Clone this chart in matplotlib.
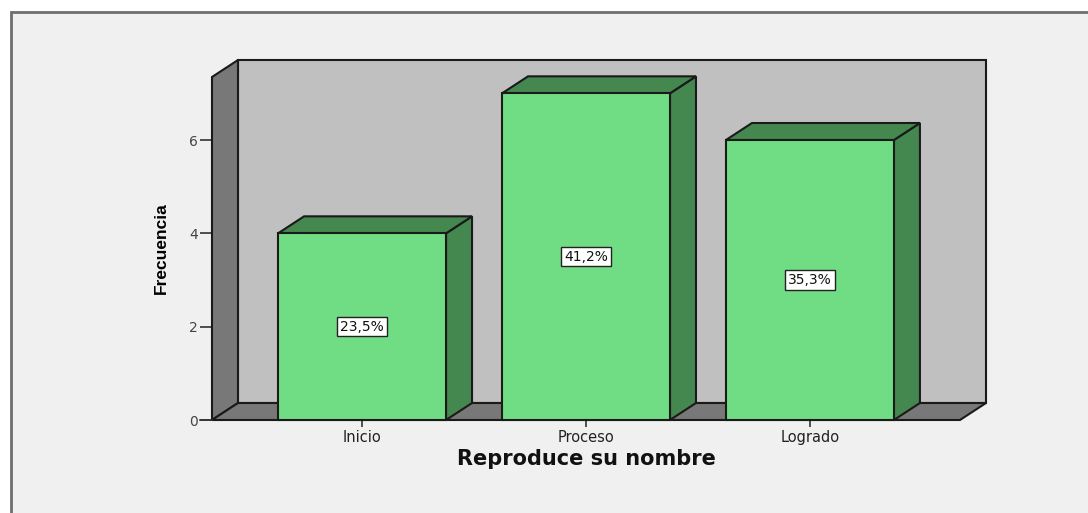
import matplotlib.pyplot as plt
from matplotlib.patches import Polygon, Rectangle
import numpy as np

# -----------------------------
# Data
# -----------------------------
categories = ["Inicio", "Proceso", "Logrado"]
counts = [4, 7, 6]
percent_labels = ["23,5%", "41,2%", "35,3%"]
y_ticks = [0, 2, 4, 6]

# -----------------------------
# Styling
# -----------------------------
W, H = 1088, 513
face_col = "#70dc84"
side_col = "#44874f"
back_col = "#c0c0c0"
wall_col = "#787878"
edge_col = "#1a1a1a"

x = np.arange(len(categories))
bar_w = 0.75
xmin, xmax = -0.67, 2.67
ymax = 7.35
dx = 26 / 224.0   # depth offset in category units
dy = 17 / 46.67   # depth offset in frequency units

fig = plt.figure(figsize=(W / 100, H / 100), dpi=100, facecolor="white")

# outer frame of the SPSS output
frame = Rectangle((11 / W, -0.1), 1.2, 1.1 - 12 / H, transform=fig.transFigure,
                  facecolor="#f0f0f0", edgecolor="#6e6e6e", lw=2, zorder=-5)
fig.patches.append(frame)

ax = fig.add_axes([212 / W, (H - 420) / H, 748 / W, 343 / H])
ax.set_xlim(xmin, xmax)
ax.set_ylim(0, ymax)
ax.patch.set_visible(False)
for s in ax.spines.values():
    s.set_visible(False)

# -----------------------------
# 3D walls
# -----------------------------
back = Polygon([(xmin + dx, dy), (xmax + dx, dy), (xmax + dx, ymax + dy), (xmin + dx, ymax + dy)],
               closed=True, facecolor=back_col, edgecolor=edge_col, lw=1.5, clip_on=False, zorder=1)
left = Polygon([(xmin, 0), (xmin + dx, dy), (xmin + dx, ymax + dy), (xmin, ymax)],
               closed=True, facecolor=wall_col, edgecolor=edge_col, lw=1.5, clip_on=False, zorder=2)
floor = Polygon([(xmin, 0), (xmax, 0), (xmax + dx, dy), (xmin + dx, dy)],
                closed=True, facecolor=wall_col, edgecolor=edge_col, lw=1.5, clip_on=False, zorder=2)
for p in (back, left, floor):
    ax.add_patch(p)

# -----------------------------
# 3D bars
# -----------------------------
for xi, v, lab in zip(x, counts, percent_labels):
    x0, x1 = xi - bar_w / 2, xi + bar_w / 2
    side = Polygon([(x1, 0), (x1 + dx, dy), (x1 + dx, v + dy), (x1, v)],
                   closed=True, facecolor=side_col, edgecolor=edge_col, lw=1.5, clip_on=False, zorder=3)
    top = Polygon([(x0, v), (x1, v), (x1 + dx, v + dy), (x0 + dx, v + dy)],
                  closed=True, facecolor=side_col, edgecolor=edge_col, lw=1.5, clip_on=False, zorder=3)
    front = Rectangle((x0, 0), bar_w, v, facecolor=face_col, edgecolor=edge_col,
                      lw=1.5, clip_on=False, zorder=4)
    ax.add_patch(side)
    ax.add_patch(top)
    ax.add_patch(front)
    ax.text(xi, v / 2, lab, ha="center", va="center", fontsize=10,
            family="DejaVu Sans", color="#111111", zorder=6,
            bbox=dict(boxstyle="square,pad=0.2", facecolor="white", edgecolor="#222222", lw=1))

# -----------------------------
# Axes & labels
# -----------------------------
ax.set_yticks(y_ticks)
ax.set_yticklabels([str(t) for t in y_ticks], family="DejaVu Sans", fontsize=10, color="#444444")
ax.set_xticks(x)
ax.set_xticklabels(categories, family="DejaVu Sans", fontsize=10.5, color="#222222")
ax.tick_params(axis="y", length=9, width=1.2, color="#333333", pad=1)
ax.tick_params(axis="x", length=5, width=1.2, color="#333333", pad=2)
ax.plot([xmin - 0.055, xmin], [0, 0], color="#333333", lw=1.2, clip_on=False)

ax.set_xlabel("Reproduce su nombre", family="DejaVu Sans", fontweight="bold",
              fontsize=15, color="#111111")
ax.xaxis.set_label_coords(0.5, -0.085)
ax.set_ylabel("Frecuencia", family=["Liberation Sans Narrow", "Liberation Sans"],
              fontweight="bold", fontsize=12.5, labelpad=15)

fig.savefig("out.png", dpi=100, facecolor="white")
